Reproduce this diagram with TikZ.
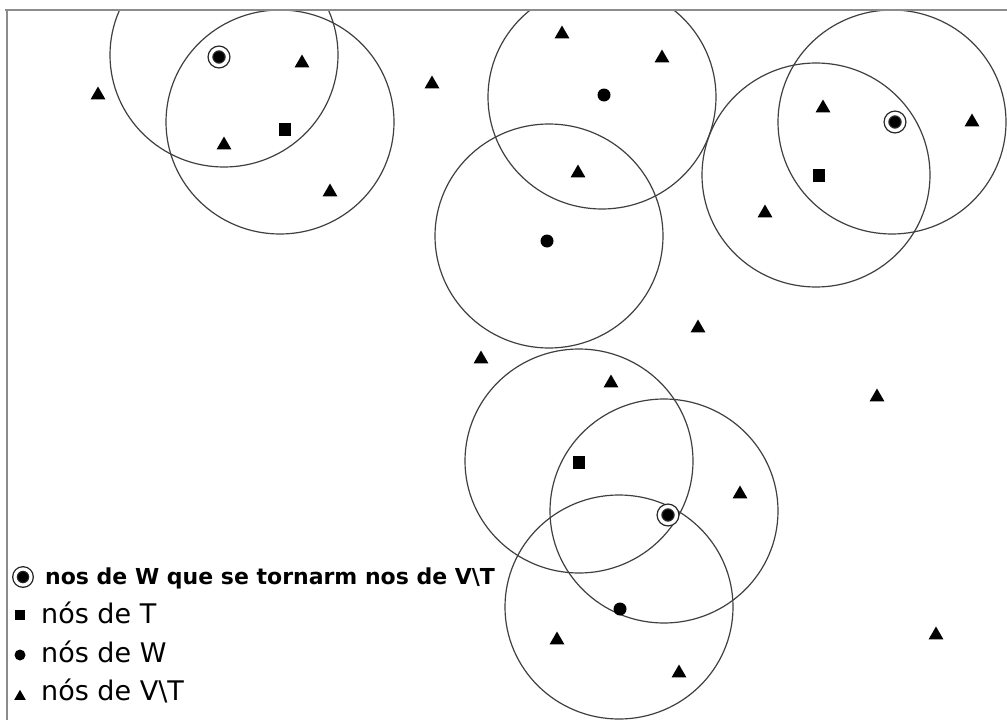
\documentclass[tikz,border=0pt]{standalone}
\usepackage{fontspec}
\setmainfont{DejaVu Sans}
\usetikzlibrary{shapes.geometric}
\begin{document}
\begin{tikzpicture}[x=1pt,y=-1pt,
  rng/.style={draw=black!75, line width=1.2pt},
  frm/.style={draw=black!45, line width=2.4pt},
  tri/.style={regular polygon, regular polygon sides=3, fill=black, draw=none, inner sep=0pt, minimum size=17pt, yshift=-2pt},
  sq/.style={rectangle, fill=black, inner sep=0pt, minimum width=12pt, minimum height=13pt},
  wdot/.style={circle, fill=black, inner sep=0pt, minimum size=13pt},
  dbl/.style={circle, fill=black, inner sep=0pt, minimum size=17pt, draw=black!85, line width=1.3pt, double=white, double distance=3.4pt},
  ltri/.style={tri, minimum size=13.5pt, yshift=-1.6pt},
  lsq/.style={sq, minimum width=9.5pt, minimum height=10.5pt},
  ldot/.style={wdot, minimum size=11pt},
  ldbl/.style={dbl, minimum size=16pt, double distance=3.2pt},
  big/.style={anchor=base west, inner sep=0pt, font=\fontsize{27}{32}\selectfont},
  small/.style={anchor=base west, inner sep=0pt, font=\fontsize{22}{26}\selectfont\bfseries}
]
\useasboundingbox (0,0) rectangle (1007,720);
\fill[white] (0,0) rectangle (1007,720);

% frame
\draw[frm] (5,10) -- (1007,10);
\draw[frm] (7,10) -- (7,720);

\begin{scope}
\clip (8,11) rectangle (1007,720);
% coverage circles
\draw[rng] (224,55)  ellipse [x radius=114, y radius=112];
\draw[rng] (280,122) ellipse [x radius=114, y radius=112];
\draw[rng] (602,97)  ellipse [x radius=114, y radius=112];
\draw[rng] (549,236) ellipse [x radius=114, y radius=112];
\draw[rng] (816,175) ellipse [x radius=114, y radius=112];
\draw[rng] (892,122) ellipse [x radius=114, y radius=112];
\draw[rng] (579,461) ellipse [x radius=114, y radius=112];
\draw[rng] (664,511) ellipse [x radius=114, y radius=112];
\draw[rng] (619,607) ellipse [x radius=114, y radius=112];
\end{scope}

% nodes of V\T
\node[tri] (v1)  at (98,93)  {};
\node[tri] (v2)  at (302,61) {};
\node[tri] (v3)  at (224,143) {};
\node[tri] (v4)  at (330,190) {};
\node[tri] (v5)  at (432,82) {};
\node[tri] (v6)  at (562,32) {};
\node[tri] (v7)  at (662,56) {};
\node[tri] (v8)  at (578,171) {};
\node[tri] (v9)  at (823,106) {};
\node[tri] (v10) at (972,120) {};
\node[tri] (v11) at (765,211) {};
\node[tri] (v12) at (698,326) {};
\node[tri] (v13) at (481,357) {};
\node[tri] (v14) at (611,381) {};
\node[tri] (v15) at (877,395) {};
\node[tri] (v16) at (740,492) {};
\node[tri] (v17) at (557,638) {};
\node[tri] (v18) at (679,671) {};
\node[tri] (v19) at (936,633) {};

% nodes of T
\node[sq] (t1) at (285,129) {};
\node[sq] (t2) at (819,175) {};
\node[sq] (t3) at (579,462) {};

% nodes of W
\node[wdot] (w1) at (604,95) {};
\node[wdot] (w2) at (547,241) {};
\node[wdot] (w3) at (620,609) {};

% nodes of W that became nodes of V\T
\node[dbl] (d1) at (219,57) {};
\node[dbl] (d2) at (895,122) {};
\node[dbl] (d3) at (668,515) {};

% legend
\node[ldbl] (lg1) at (23,577) {};
\node[small] (lt1) at (45,584) {nos de W que se tornarm nos de V\textbackslash T};
\node[lsq] (lg2) at (20,615) {};
\node[big] (lt2) at (41,623) {nós de T};
\node[ldot] (lg3) at (20,655) {};
\node[big] (lt3) at (41,662) {nós de W};
\node[ltri] (lg4) at (20,693) {};
\node[big] (lt4) at (41,700) {nós de V\textbackslash T};
\end{tikzpicture}
\end{document}
